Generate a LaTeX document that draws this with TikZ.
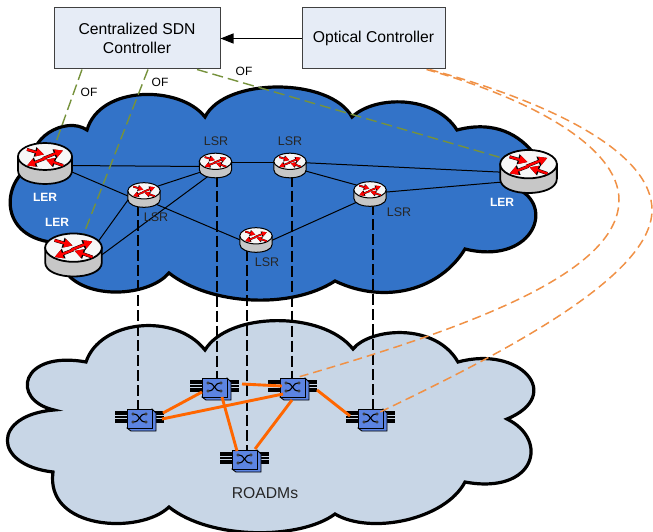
\documentclass[tikz,border=0pt]{standalone}
\usepackage{fontspec}
\setmainfont{Liberation Sans}
\usetikzlibrary{arrows.meta}
\definecolor{mplsblue}{RGB}{51,115,200}
\definecolor{opticalgray}{RGB}{200,214,230}
\definecolor{boxfill}{RGB}{230,236,246}
\definecolor{ofgreen}{RGB}{118,146,60}
\definecolor{linkorange}{RGB}{255,102,0}
\definecolor{dashorange}{RGB}{240,145,70}
\definecolor{roadmblue}{RGB}{92,132,226}
\tikzset{
  pics/routericon/.style={code={
    \begin{scope}[scale=#1]
    \path[draw=black,line width=#1*1.7pt,left color=black!22,middle color=white,right color=black!22]
      (-27,-7) -- (-27,7) .. controls (-27,25) and (27,25) .. (27,7) -- (27,-7) -- cycle;
    \draw[line width=#1*1.7pt,fill=black!3] (0,-7) ellipse [x radius=27,y radius=13.5];
    \foreach \colr/\wid/\tip in {black/3/3.1,red/2.2/3.6}
      \foreach \xa/\ya/\xb/\yb in {-18/-14/-1/-9,-2/-5/18/-13,0/-5/-18/2,18/2/1/-4}
        \draw[\colr,line width=#1*\wid pt,-{Triangle[length=0pt \tip,width=0pt \tip]}] (\xa,\ya) -- (\xb,\yb);
    \end{scope}
  }},
  pics/roadmicon/.style={code={
    \foreach \yf in {-7.4,-4.7,-2,.7,3.4}
      \draw[line width=1.9pt] (-27,\yf) -- (22,\yf);
    \draw[line width=.9pt,fill=roadmblue] (10,-10) -- (14,-6) -- (14,12) -- (-11,12) -- (-15,9) -- cycle;
    \draw[line width=.9pt,fill=roadmblue] (-15,-10) rectangle (10,9);
    \draw[line width=1.1pt] (-9,-5) .. controls (-1,-5) and (-4,3) .. (4,3);
    \draw[line width=1.1pt] (-9,3) .. controls (-1,3) and (-4,-5) .. (4,-5);
    \foreach \xd/\yd in {-9/-5,-9/3,4/3,4/-5}
      \draw[line width=.6pt,fill=white] (\xd,\yd) circle [radius=1.3];
  }},
  routernode/.style={inner sep=0pt,minimum width=30pt,minimum height=20pt},
  roadmnode/.style={inner sep=0pt,minimum width=25pt,minimum height=19pt},
  ctrlbox/.style={draw=black!75,line width=1pt,fill=boxfill,align=center,inner sep=0pt,font=\fontsize{15.7}{19}\selectfont},
  oflabel/.style={font=\fontsize{12}{14}\selectfont},
  lsrlabel/.style={font=\fontsize{12.5}{14}\selectfont,text=black!85},
  lerlabel/.style={font=\fontsize{12}{14}\selectfont\bfseries,text=white},
  cloudline/.style={line width=3.2pt,line join=miter,draw=black},
  mplslink/.style={line width=1pt},
  droplink/.style={line width=1.3pt,dash pattern=on 11pt off 4pt},
  oflink/.style={ofgreen,line width=1.4pt,dash pattern=on 11pt off 5pt},
  fiber/.style={linkorange,line width=2.9pt},
  optlink/.style={dashorange,line width=1.5pt,dash pattern=on 9pt off 5pt}
}
\begin{document}
\begin{tikzpicture}[x=1pt,y=-1pt]
\useasboundingbox (0,0) rectangle (653,532);
% clouds
\draw[cloudline,fill=mplsblue] (60,243) .. controls (-7,240) and (3,175) .. (35,165)
  .. controls (25,140) and (65,115) .. (87,130)
  .. controls (100,85) and (180,85) .. (205,117)
  .. controls (225,77) and (330,77) .. (352,117)
  .. controls (375,95) and (435,95) .. (457,130)
  .. controls (495,120) and (520,135) .. (535,155) -- (520,190)
  .. controls (555,210) and (530,265) .. (465,249)
  .. controls (440,290) and (385,305) .. (335,281)
  .. controls (290,310) and (210,305) .. (169,273)
  .. controls (150,295) and (95,300) .. (70,277) -- cycle;
\draw[cloudline,fill=opticalgray] (205,350) .. controls (228,312) and (322,310) .. (353,349)
  .. controls (370,328) and (435,322) .. (458,362)
  .. controls (520,345) and (565,395) .. (507,419)
  .. controls (550,440) and (535,495) .. (465,482)
  .. controls (445,520) and (370,535) .. (335,514)
  .. controls (300,540) and (210,540) .. (169,507)
  .. controls (140,535) and (45,530) .. (53,472)
  .. controls (-8,465) and (-8,415) .. (54,410)
  .. controls (10,400) and (20,350) .. (86,362)
  .. controls (100,320) and (175,312) .. (205,350) -- cycle;
% controllers
\node[ctrlbox,minimum width=166pt,minimum height=61pt] (sdn) at (137,38.5) {Centralized SDN\\Controller};
\node[ctrlbox,minimum width=143pt,minimum height=61pt] (optical) at (373.5,38.5) {Optical Controller};
\draw[line width=1.2pt,-{Triangle[length=13pt,width=10pt]}] (optical) -- (sdn);
% routers
\node[routernode] (ler1) at (45,163.5) {};
\node[routernode] (ler2) at (73.5,255) {};
\node[routernode] (ler3) at (528.5,171.5) {};
\node[routernode] (lsra) at (144,195) {};
\node[routernode] (lsrb) at (215.5,165.5) {};
\node[routernode] (lsrc) at (290,165.5) {};
\node[routernode] (lsrd) at (370,194) {};
\node[routernode] (lsre) at (256,240) {};
% roadms
\node[roadmnode] (roadma) at (142,419) {};
\node[roadmnode] (roadmb) at (217,388) {};
\node[roadmnode] (roadmc) at (295,388) {};
\node[roadmnode] (roadmd) at (247,460) {};
\node[roadmnode] (roadme) at (373,419) {};
% mpls links
\draw[mplslink] ([shift={(20,2)}]ler1.center) -- ([shift={(-10,1)}]lsrb.center);
\draw[mplslink] ([shift={(20,5.5)}]ler1.center) -- ([shift={(-10,3.6)}]lsra.center);
\draw[mplslink] ([shift={(8,-7)}]lsra.center) -- ([shift={(-10,5)}]lsrb.center);
\draw[mplslink] ([shift={(20,-7)}]ler2.center) -- ([shift={(-10,-3.4)}]lsra.center);
\draw[mplslink] ([shift={(20,6)}]ler2.center) -- ([shift={(-5,9)}]lsrb.center);
\draw[mplslink] ([shift={(8,7.5)}]lsra.center) -- ([shift={(-10,2.4)}]lsre.center);
\draw[mplslink] ([shift={(10,-3)}]lsrb.center) -- ([shift={(-10,-3)}]lsrc.center);
\draw[mplslink] ([shift={(10,4)}]lsrc.center) -- ([shift={(-10,-8)}]lsrd.center);
\draw[mplslink] ([shift={(10,-3)}]lsrc.center) -- ([shift={(-20,1)}]ler3.center);
\draw[mplslink] ([shift={(10,-1.4)}]lsrd.center) -- ([shift={(-20,10)}]ler3.center);
\draw[mplslink] ([shift={(10,3)}]lsre.center) -- ([shift={(-10,6.7)}]lsrd.center);
% openflow
\draw[oflink] ([xshift=-55pt]sdn.south) -- ([xshift=7pt]ler1.north);
\draw[oflink] ([xshift=11pt]sdn.south) -- ([xshift=6pt]ler2.north);
\draw[oflink] ([xshift=60pt]sdn.south) -- ([xshift=-15pt]ler3.north);
% drops
\draw[droplink] ([xshift=-6pt]lsra.south) -- ([xshift=-4pt]roadma.north);
\draw[droplink] ([xshift=1.5pt]lsrb.south) -- (roadmb.north);
\draw[droplink] ([xshift=2pt]lsrc.south) -- ([xshift=-3pt]roadmc.north);
\draw[droplink] ([xshift=-9pt]lsre.south) -- (roadmd.north);
\draw[droplink] ([xshift=3pt]lsrd.south) -- (roadme.north);
% icons
\pic at (ler1.center) {routericon=1};
\pic at (ler2.center) {routericon=1.05};
\pic at (ler3.center) {routericon=1.05};
\pic at (lsra.center) {routericon=.6};
\pic at (lsrb.center) {routericon=.6};
\pic at (lsrc.center) {routericon=.6};
\pic at (lsrd.center) {routericon=.6};
\pic at (lsre.center) {routericon=.6};
\pic at (roadma.center) {roadmicon};
\pic at (roadmb.center) {roadmicon};
\pic at (roadmc.center) {roadmicon};
\pic at (roadmd.center) {roadmicon};
\pic at (roadme.center) {roadmicon};
% fibers
\draw[fiber] ([shift={(25,-4)}]roadmb.center) -- ([shift={(-13,-2)}]roadmc.center);
\draw[fiber] ([shift={(21,-6)}]roadma.center) -- ([shift={(-15,4)}]roadmb.center);
\draw[fiber] ([shift={(20,0)}]roadma.center) -- ([shift={(-12,6)}]roadmc.center);
\draw[fiber] ([shift={(5,9)}]roadmb.center) -- ([shift={(-10,-9)}]roadmd.center);
\draw[fiber] ([shift={(-3,12)}]roadmc.center) -- ([shift={(8,-11)}]roadmd.center);
\draw[fiber] ([shift={(22,2)}]roadmc.center) -- ([shift={(-23,-3)}]roadme.center);
% optical control
\draw[optlink] ([xshift=53pt]optical.south) .. controls (525,97) and (619,145) .. (619,200)
  .. controls (619,275) and (460,330) .. ([shift={(0,-10)}]roadmc.center);
\draw[optlink] ([xshift=56pt]optical.south) .. controls (560,105) and (652,155) .. (652,210)
  .. controls (652,275) and (510,350) .. ([shift={(5,-6)}]roadme.center);
% labels
\node[oflabel] (oflbla) at (89,92) {OF};
\node[oflabel] (oflblb) at (160,82) {OF};
\node[oflabel] (oflblc) at (244,71) {OF};
\node[lsrlabel] (lsrlbla) at (156,217) {LSR};
\node[lsrlabel] (lsrlblb) at (216,141) {LSR};
\node[lsrlabel] (lsrlblc) at (290,141) {LSR};
\node[lsrlabel] (lsrlbld) at (399,212) {LSR};
\node[lsrlabel] (lsrlble) at (267,262) {LSR};
\node[lerlabel] (lerlbla) at (45,197) {LER};
\node[lerlabel] (lerlblb) at (57,222) {LER};
\node[lerlabel] (lerlblc) at (502,202) {LER};
\node[font=\fontsize{15.7}{19}\selectfont,text=black!85] (roadmlbl) at (265,493) {ROADMs};
\end{tikzpicture}
\end{document}
